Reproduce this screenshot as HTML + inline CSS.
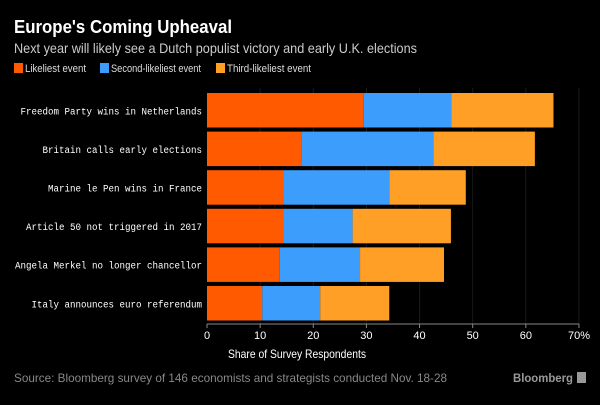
<!DOCTYPE html>
<html><head><meta charset="utf-8"><style>
body{margin:0;background:#000;width:600px;height:400px;overflow:hidden;font-family:"Liberation Sans",sans-serif}
</style></head><body>
<svg width="600" height="400" xmlns="http://www.w3.org/2000/svg">
<rect width="600" height="400" fill="#000"/>
<text x="14" y="33" fill="#fff" font-weight="bold" font-size="18" textLength="218" lengthAdjust="spacingAndGlyphs">Europe's Coming Upheaval</text>
<text x="14" y="53" fill="#ccc" font-size="14" textLength="403" lengthAdjust="spacingAndGlyphs">Next year will likely see a Dutch populist victory and early U.K. elections</text>
<g id="legend" font-size="11" fill="#ddd"></g>
<g id="grid"></g><g id="bars"></g><g id="labels"></g><g id="axis"></g>
<text x="297" y="358" fill="#fff" font-size="12" text-anchor="middle" textLength="138" lengthAdjust="spacingAndGlyphs">Share of Survey Respondents</text>
<text x="14" y="382" fill="#888" font-size="12" textLength="433" lengthAdjust="spacingAndGlyphs">Source: Bloomberg survey of 146 economists and strategists conducted Nov. 18-28</text>
<text x="513" y="382" fill="#999" font-size="12" font-weight="bold" textLength="60" lengthAdjust="spacingAndGlyphs">Bloomberg</text>
<rect x="577" y="372" width="9" height="11" fill="#999"/>
</svg>
<script>
const categories=["Freedom Party wins in Netherlands","Britain calls early elections","Marine le Pen wins in France","Article 50 not triggered in 2017","Angela Merkel no longer chancellor","Italy announces euro referendum"];
const likeliest=[29.5,17.8,14.4,14.4,13.7,10.4];
const second=[16.5,24.8,19.9,13.0,15.1,10.9];
const third=[19.2,19.1,14.4,18.5,15.8,13.0];
const ticks=[0,10,20,30,40,50,60,70];
const seriesNames=["Likeliest event","Second-likeliest event","Third-likeliest event"];
const colors=["#ff5a00","#3d9dfd","#ff9f26"];
const NS="http://www.w3.org/2000/svg";
const x0=207,xs=5.314,y0=93,step=38.6,bh=34.5;
const X=v=>x0+v*xs;
function mk(t,a,p){const e=document.createElementNS(NS,t);for(const k in a)e.setAttribute(k,a[k]);p.appendChild(e);return e;}
const grid=document.getElementById('grid'),axis=document.getElementById('axis');
ticks.forEach((t,i)=>{
 if(i>0){const g=mk('line',{x1:X(t),x2:X(t),y1:88,y2:324,stroke:'#1a1a1a'},grid);
 
 }
 const tk=mk('line',{x1:X(t),x2:X(t),y1:324,y2:328,stroke:'#888'},axis);
 
 
 const tl=mk('text',{x:X(t),y:339,fill:'#fff','font-size':11,'text-anchor':'middle'},axis);
 tl.textContent=t+(i==ticks.length-1?'%':'');
 
 
});
const al=mk('line',{x1:X(0),x2:X(70),y1:324,y2:324,stroke:'#888'},axis);


const bars=document.getElementById('bars'),labels=document.getElementById('labels');
const series=[likeliest,second,third];
categories.forEach((c,i)=>{
 const y=y0+i*step;let acc=0;
 series.forEach((s,j)=>{
  const r=mk('rect',{x:X(acc),y:y,width:s[i]*xs,height:bh,fill:colors[j]},bars);
  
  
  acc+=s[i];
 });
 const l=mk('text',{x:202,y:y+bh/2+4,fill:'#fff','font-size':10,'font-family':'Liberation Mono, monospace','text-anchor':'end',textLength:c.length*5.5,lengthAdjust:'spacingAndGlyphs'},labels);
 l.textContent=c;
 
 
});
const lg=document.getElementById('legend');const lx=[14,100,216];const lw=[61,90,84];
seriesNames.forEach((n,j)=>{
 const r=mk('rect',{x:lx[j],y:63,width:9,height:10,fill:colors[j]},lg);
 
 
 const t=mk('text',{x:lx[j]+11,y:72,textLength:lw[j],lengthAdjust:'spacingAndGlyphs'},lg);t.textContent=n;
 
 
});
</script>
</body></html>
